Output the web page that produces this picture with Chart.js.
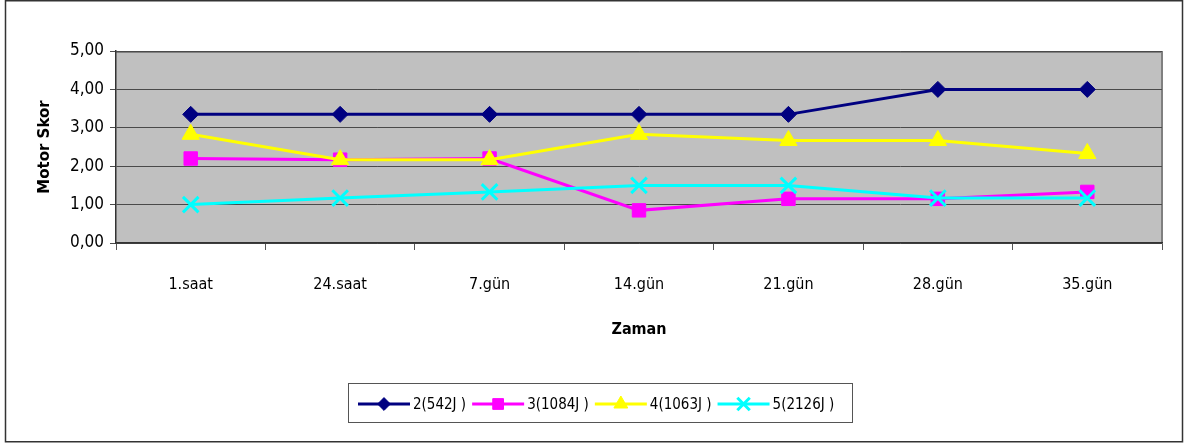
<!DOCTYPE html>
<html lang="tr">
<head>
  <meta charset="UTF-8">
  <title>Motor Skor</title>
  <script src="https://cdn.jsdelivr.net/npm/chart.js@4.4.0/dist/chart.umd.min.js"></script>
  <style>
    html, body { margin: 0; padding: 0; background: #fff; }
    #wrap { width: 1185px; height: 444px; }
  </style>
</head>
<body>
<div id="wrap">
  <canvas id="myChart" width="1185" height="444"></canvas>
</div>

<script>
  // data
  const labels = ["1.saat", "24.saat", "7.gün", "14.gün", "21.gün", "28.gün", "35.gün"];
  const seriesNames = ["2(542J )", "3(1084J )", "4(1063J )", "5(2126J )"];
  const grp2 = [3.35, 3.35, 3.35, 3.35, 3.35, 4.00, 4.00];
  const grp3 = [2.20, 2.17, 2.20, 0.85, 1.15, 1.15, 1.33];
  const grp4 = [2.83, 2.17, 2.17, 2.83, 2.67, 2.67, 2.33];
  const grp5 = [1.00, 1.17, 1.33, 1.50, 1.50, 1.17, 1.17];
  const yTicks = [0, 1, 2, 3, 4, 5];

  const fontFam = "'DejaVu Sans Condensed', 'DejaVu Sans', sans-serif";

  // gray plot background + frame round the whole picture
  const bgPlugin = {
    id: "bg",
    beforeDraw(chart) {
      const ctx = chart.ctx;
      const a = chart.chartArea;
      ctx.save();
      ctx.fillStyle = "#fff";
      ctx.fillRect(0, 0, chart.width, chart.height);
      ctx.fillStyle = "#C0C0C0";
      ctx.fillRect(a.left, a.top, a.right - a.left, a.bottom - a.top);
      ctx.strokeStyle = "#808080";
      ctx.lineWidth = 2;
      ctx.beginPath();
      ctx.moveTo(a.left, a.top + 1);
      ctx.lineTo(a.right, a.top + 1);
      ctx.lineTo(a.right, a.bottom);
      ctx.stroke();
      ctx.strokeStyle = "#333";
      ctx.lineWidth = 1.5;
      ctx.strokeRect(5.5, 0.75, 1177, 441);
      ctx.restore();
    }
  };

  // legend: line with marker, then text, in a boxed row
  const legendPlugin = {
    id: "lineLegend",
    afterDraw(chart) {
      const ctx = chart.ctx;
      ctx.save();
      ctx.strokeStyle = "#555";
      ctx.lineWidth = 1;
      ctx.strokeRect(348.5, 383.5, 504, 39);
      ctx.font = "15px " + fontFam;
      ctx.textBaseline = "middle";
      let x = 358;
      const y = 404;
      chart.data.datasets.forEach(ds => {
        ctx.strokeStyle = ds.borderColor;
        ctx.fillStyle = ds.borderColor;
        ctx.lineWidth = 3;
        ctx.beginPath();
        ctx.moveTo(x, y);
        ctx.lineTo(x + 52, y);
        ctx.stroke();
        ctx.lineWidth = ds.pointBorderWidth;
        Chart.helpers.drawPoint(ctx, {
          pointStyle: ds.pointStyle,
          radius: ds.pointRadius * 0.8,
          borderWidth: ds.pointBorderWidth
        }, x + 26, y);
        ctx.fillStyle = "#000";
        ctx.fillText(ds.label, x + 55, y + 1);
        x += 55 + ctx.measureText(ds.label).width + 6;
      });
      ctx.restore();
    }
  };

  function mkSet(name, vals, color, style, r, bw, ord) {
    return {
      label: name,
      data: vals,
      borderColor: color,
      backgroundColor: color,
      pointBackgroundColor: color,
      pointBorderColor: color,
      pointStyle: style,
      pointRadius: r,
      pointHoverRadius: r,
      pointBorderWidth: bw,
      borderWidth: 3,
      tension: 0,
      order: ord
    };
  }

  new Chart(document.getElementById("myChart"), {
    type: "line",
    data: {
      labels: labels,
      datasets: [
        mkSet(seriesNames[0], grp2, "#000080", "rectRot", 8, 1, 3),
        mkSet(seriesNames[1], grp3, "#FF00FF", "rect", 9.5, 1, 2),
        mkSet(seriesNames[2], grp4, "#FFFF00", "triangle", 10, 1, 1),
        mkSet(seriesNames[3], grp5, "#00FFFF", "crossRot", 11, 3, 0)
      ]
    },
    options: {
      responsive: false,
      animation: false,
      layout: { padding: { top: 51, right: 23, left: 32, bottom: 101 } },
      plugins: {
        legend: { display: false },
        tooltip: { enabled: false }
      },
      scales: {
        x: {
          offset: true,
          afterFit: s => { s.height = 100; },
          grid: {
            offset: true,
            drawOnChartArea: false,
            drawTicks: true,
            tickLength: 7,
            color: "#555"
          },
          border: { color: "#333", width: 1.5 },
          ticks: {
            font: { family: fontFam, size: 16 },
            color: "#000",
            padding: 25,
            maxRotation: 0
          },
          title: {
            display: true,
            text: "Zaman",
            font: { family: fontFam, size: 16, weight: "bold" },
            color: "#000",
            padding: { top: 14 }
          }
        },
        y: {
          min: 0,
          max: 5,
          afterFit: s => { s.width = 84; },
          afterBuildTicks: s => { s.ticks = yTicks.map(v => ({ value: v })); },
          grid: {
            drawOnChartArea: true,
            drawTicks: true,
            tickLength: 6,
            color: "#4a4a4a",
            lineWidth: 1
          },
          border: { color: "#333", width: 1.5 },
          ticks: {
            font: { family: fontFam, size: 17 },
            color: "#000",
            padding: 6,
            callback: v => v.toFixed(2).replace(".", ",")
          },
          title: {
            display: true,
            text: "Motor Skor",
            font: { family: "'DejaVu Sans', sans-serif", size: 15, weight: "bold" },
            color: "#000",
            padding: { bottom: 4 }
          }
        }
      }
    },
    plugins: [bgPlugin, legendPlugin]
  });
</script>
</body>
</html>
